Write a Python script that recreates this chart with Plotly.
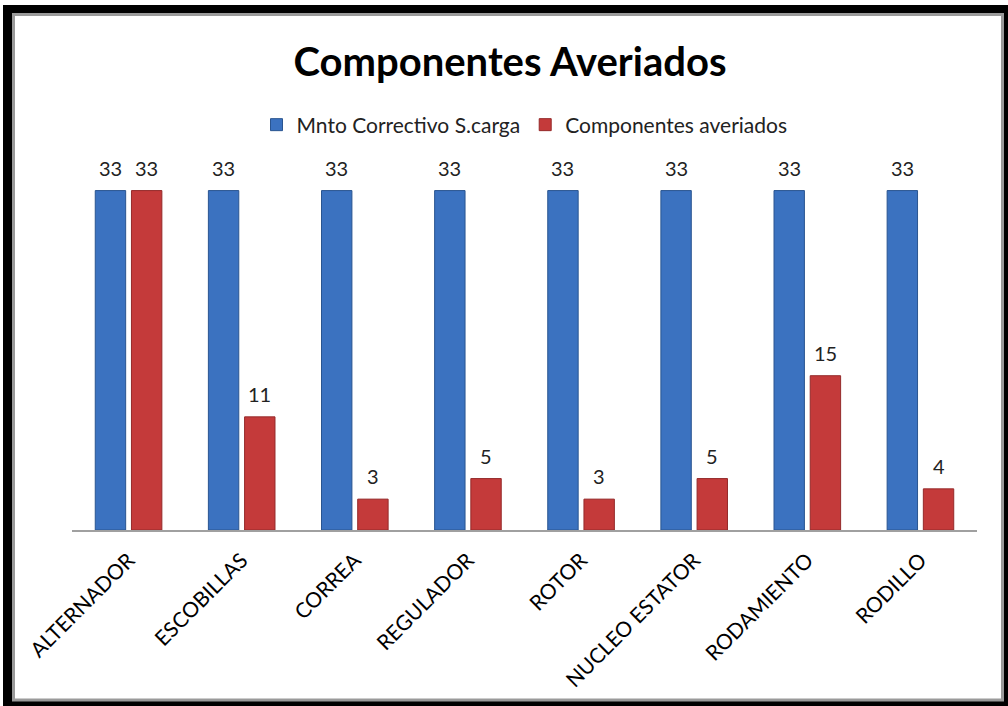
import plotly.graph_objects as go

categories = ["ALTERNADOR", "ESCOBILLAS", "CORREA", "REGULADOR", "ROTOR",
              "NUCLEO ESTATOR", "RODAMIENTO", "RODILLO"]
mnto_correctivo = [33, 33, 33, 33, 33, 33, 33, 33]
componentes_averiados = [33, 11, 3, 5, 3, 5, 15, 4]
series_names = ["Mnto Correctivo S.carga", "Componentes averiados"]

W, H = 1008, 706
L, R, T, B = 72, 977, 170, 530
pw, ph = R - L, B - T

def px(x):
    return (x - L) / pw

def py(y):
    return (B - y) / ph

font = "Lato"
BARGAP, GROUPGAP = 0.36, 0.16
cat_w = pw / len(categories)
slot = cat_w * (1 - BARGAP) / 2

fig = go.Figure()
fig.add_trace(go.Bar(
    x=categories, y=mnto_correctivo, name=series_names[0],
    marker=dict(color="#3B72C0", line=dict(color="#2A5590", width=1)),
))
fig.add_trace(go.Bar(
    x=categories, y=componentes_averiados, name=series_names[1],
    marker=dict(color="#C43A3A", line=dict(color="#952A2A", width=1)),
))

annotations = []
for vals, shift in ((mnto_correctivo, -slot / 2), (componentes_averiados, slot / 2)):
    for c, v in zip(categories, vals):
        annotations.append(dict(
            x=c, y=v, xref="x", yref="y", text=str(v), showarrow=False,
            xshift=shift, yshift=9, yanchor="bottom",
            font=dict(family=font, size=20, color="#222222"),
        ))

shapes = [
    dict(type="rect", xref="paper", yref="paper", layer="below",
         x0=px(3), x1=px(1012), y0=py(5), y1=py(712),
         fillcolor="black", line=dict(width=0)),
    dict(type="rect", xref="paper", yref="paper", layer="below",
         x0=px(13.5), x1=px(1002.5), y0=py(14.5), y1=py(700),
         fillcolor="white", line=dict(color="#9A9A9A", width=3)),
]

fig.update_layout(
    width=W, height=H,
    margin=dict(l=L, r=W - R, t=T, b=H - B, pad=0),
    paper_bgcolor="white", plot_bgcolor="rgba(0,0,0,0)",
    barmode="group", bargap=BARGAP, bargroupgap=GROUPGAP,
    showlegend=True,
    title=dict(text="<b>Componentes Averiados</b>", x=510 / W, xanchor="center",
               y=1 - 62 / H, yanchor="middle",
               font=dict(family=font, size=40, color="black")),
    legend=dict(orientation="h", x=0.5, xanchor="center", y=py(125),
                yanchor="middle", font=dict(family=font, size=21, color="#222222"),
                itemwidth=30, traceorder="normal", bgcolor="rgba(0,0,0,0)"),
    xaxis=dict(showline=True, linecolor="#A0A0A0", linewidth=1.5, ticks="",
               tickangle=-45, tickfont=dict(family=font, size=21, color="black"),
               ticklabelstandoff=8,
               showgrid=False, zeroline=False),
    yaxis=dict(range=[0, 35], visible=False, showgrid=False, zeroline=False),
    shapes=shapes,
    annotations=annotations,
)

fig.write_html("out.html")
